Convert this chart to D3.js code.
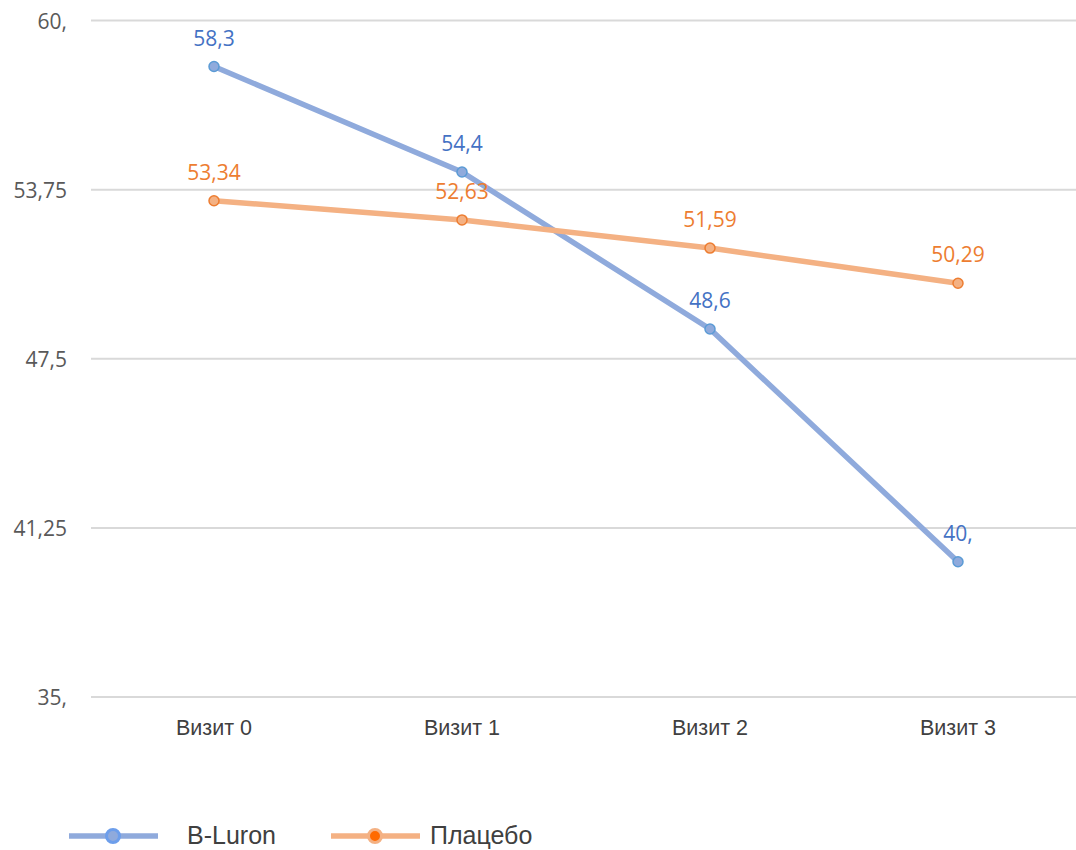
<!DOCTYPE html>
<html lang="ru">
<head>
<meta charset="UTF-8">
<title>Chart</title>
<style>
  body { margin: 0; background: #fff; }
  svg { display: block; }
</style>
</head>
<body>
<svg class="chart"></svg>
<script src="https://cdnjs.cloudflare.com/ajax/libs/d3/7.8.5/d3.min.js"></script>
<script>
const categories = ['Визит 0', 'Визит 1', 'Визит 2', 'Визит 3'];
const bluronValues = [58.3, 54.4, 48.6, 40.0];
const placeboValues = [53.34, 52.63, 51.59, 50.29];
const bluronLabels = ['58,3', '54,4', '48,6', '40,'];
const placeboLabels = ['53,34', '52,63', '51,59', '50,29'];
const yTicks = [35, 41.25, 47.5, 53.75, 60];
const yTickLabels = ['35,', '41,25', '47,5', '53,75', '60,'];
const seriesNames = ['B-Luron', 'Плацебо'];

const width = 1076, height = 850;
const svg = d3.select('.chart').attr('width', width).attr('height', height);

// scales
const x = d3.scaleBand().domain(categories).range([90, 1082]);
const y = d3.scaleLinear().domain([35, 60]).range([697, 20.5]);
const cx = d => x(d) + x.bandwidth() / 2;

// gridlines
svg.append('g').selectAll('line')
  .data(yTicks).enter().append('line')
  .attr('x1', 91).attr('x2', width)
  .attr('y1', d => y(d)).attr('y2', d => y(d))
  .attr('stroke', '#d9d9d9').attr('stroke-width', 2);

// y axis labels
svg.append('g').selectAll('text')
  .data(yTicks).enter().append('text')
  .attr('x', 67).attr('y', d => y(d) + 8)
  .attr('text-anchor', 'end')
  .attr('font-family', 'Open Sans, sans-serif')
  .attr('font-size', 21)
  .attr('fill', '#595959')
  .text((d, i) => yTickLabels[i]);

// x axis labels
svg.append('g').selectAll('text')
  .data(categories).enter().append('text')
  .attr('x', d => cx(d)).attr('y', 735)
  .attr('text-anchor', 'middle')
  .attr('font-family', 'Liberation Sans, Arial, sans-serif')
  .attr('font-size', 21.5)
  .attr('fill', '#404040')
  .text(d => d);

const series = [
  { name: seriesNames[0], values: bluronValues, labels: bluronLabels, line: '#8faadc', dot: '#8faadc', dotStroke: '#5b9bd5', text: '#4472c4' },
  { name: seriesNames[1], values: placeboValues, labels: placeboLabels, line: '#f4b183', dot: '#f4b183', dotStroke: '#ed7d31', text: '#ed7d31' }
];

const line = d3.line().x((d, i) => cx(categories[i])).y(d => y(d));

series.forEach(s => {
  const g = svg.append('g');
  g.append('path').datum(s.values)
    .attr('d', line)
    .attr('fill', 'none')
    .attr('stroke', s.line)
    .attr('stroke-width', 5.5)
    .attr('stroke-linejoin', 'round');
  g.selectAll('circle').data(s.values).enter().append('circle')
    .attr('cx', (d, i) => cx(categories[i]))
    .attr('cy', d => y(d))
    .attr('r', 5)
    .attr('fill', s.dot)
    .attr('stroke', s.dotStroke)
    .attr('stroke-width', 1.5);
  g.selectAll('text').data(s.values).enter().append('text')
    .attr('x', (d, i) => cx(categories[i]))
    .attr('y', d => y(d) - 21)
    .attr('text-anchor', 'middle')
    .attr('font-family', 'Open Sans, sans-serif')
    .attr('font-size', 21)
    .attr('fill', s.text)
    .text((d, i) => s.labels[i]);
});

// legend
const legendY = 836;
const legend = [
  { x: 69, textX: 187, s: series[0], inner: '#8faadc', ring: '#6d9eeb' },
  { x: 331, textX: 430, s: series[1], inner: '#ff6a00', ring: '#f4b183' }
];
legend.forEach(l => {
  const g = svg.append('g');
  g.append('line')
    .attr('x1', l.x).attr('x2', l.x + 89)
    .attr('y1', legendY).attr('y2', legendY)
    .attr('stroke', l.s.line).attr('stroke-width', 5.5);
  g.append('circle')
    .attr('cx', l.x + 44).attr('cy', legendY).attr('r', 6.5)
    .attr('fill', l.inner)
    .attr('stroke', l.ring).attr('stroke-width', 3);
  g.append('text')
    .attr('x', l.textX).attr('y', legendY + 8)
    .attr('font-family', 'Liberation Sans, Arial, sans-serif')
    .attr('font-size', 25)
    .attr('fill', '#404040')
    .text(l.s.name);
});
</script>
</body>
</html>
